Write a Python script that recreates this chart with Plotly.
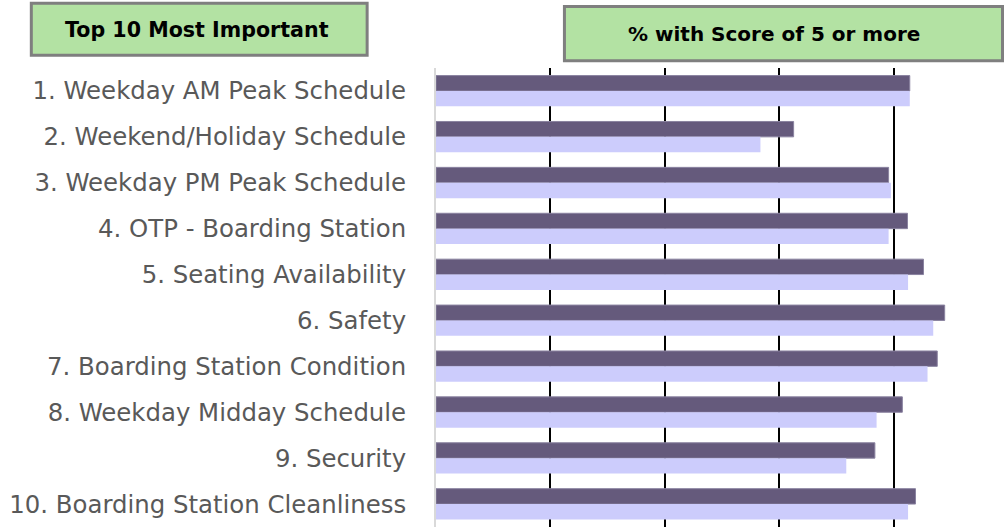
import plotly.graph_objects as go

# Survey attributes, ranked by importance
categories = [
    "1. Weekday AM Peak Schedule",
    "2. Weekend/Holiday Schedule",
    "3. Weekday PM Peak Schedule",
    "4. OTP - Boarding Station",
    "5. Seating Availability",
    "6. Safety",
    "7. Boarding Station Condition",
    "8. Weekday Midday Schedule",
    "9. Security",
    "10. Boarding Station Cleanliness",
]

# % of respondents with a score of 5 or more
series_a = [82.8, 62.5, 79.1, 82.4, 85.2, 88.9, 87.6, 81.5, 76.7, 83.8]
series_b = [82.8, 56.7, 79.5, 79.1, 82.5, 86.9, 85.9, 77.0, 71.7, 82.5]

grid_values = [20, 40, 60, 80]

W, H = 1004, 529
L, R, T, B = 435.7, 1004, 68, 527


def px_x(px):
    return (px - L) / (R - L)


def px_y(py):
    return (B - py) / (B - T)


fig = go.Figure()
fig.add_trace(go.Bar(
    y=categories, x=series_a, orientation="h",
    marker=dict(color="#655a7c", line=dict(color="#8a83a0", width=1)),
    showlegend=False, hoverinfo="x+y",
))
fig.add_trace(go.Bar(
    y=categories, x=series_b, orientation="h",
    marker=dict(color="#ccccfc", line=dict(width=0)),
    showlegend=False, hoverinfo="x+y",
))

# Header boxes
boxes = [
    dict(x0=30.8, x1=366.8, y0=3.2, y1=55.2, text="Top 10 Most Important", tx=197.0, ty=30.0, size=20.6),
    dict(x0=564.2, x1=1002.5, y0=6.5, y1=60.8, text="% with Score of 5 or more", tx=773.5, ty=34.5, size=20),
]
shapes = []
annotations = []
for b in boxes:
    shapes.append(dict(
        type="rect", xref="paper", yref="paper",
        x0=px_x(b["x0"]), x1=px_x(b["x1"]), y0=px_y(b["y1"]), y1=px_y(b["y0"]),
        fillcolor="#b3e2a3", line=dict(color="#7f7f7f", width=3), layer="above",
    ))
    annotations.append(dict(
        xref="paper", yref="paper", x=px_x(b["tx"]), y=px_y(b["ty"]),
        xanchor="center", yanchor="middle", showarrow=False,
        text="<b>" + b["text"] + "</b>",
        font=dict(family="DejaVu Sans", size=b["size"], color="#000000"),
    ))

fig.update_layout(
    width=W, height=H,
    margin=dict(l=L, r=W - R, t=T, b=H - B, pad=0),
    paper_bgcolor="white", plot_bgcolor="white",
    barmode="group", bargap=0.33, bargroupgap=0,
    shapes=shapes, annotations=annotations,
    xaxis=dict(
        range=[0, (R - L) / 5.725], tickmode="array", tickvals=grid_values,
        showticklabels=False, showgrid=True, gridcolor="#000000", gridwidth=1.8,
        zeroline=False, showline=False, ticks="", fixedrange=True,
    ),
    yaxis=dict(
        autorange="reversed", showline=True, linecolor="#d9d9d9", linewidth=2,
        showgrid=False, zeroline=False, ticks="", ticklabelstandoff=23,
        tickfont=dict(family="DejaVu Sans", size=24.4, color="#595959"),
        fixedrange=True,
    ),
)

fig.write_html("out.html")
